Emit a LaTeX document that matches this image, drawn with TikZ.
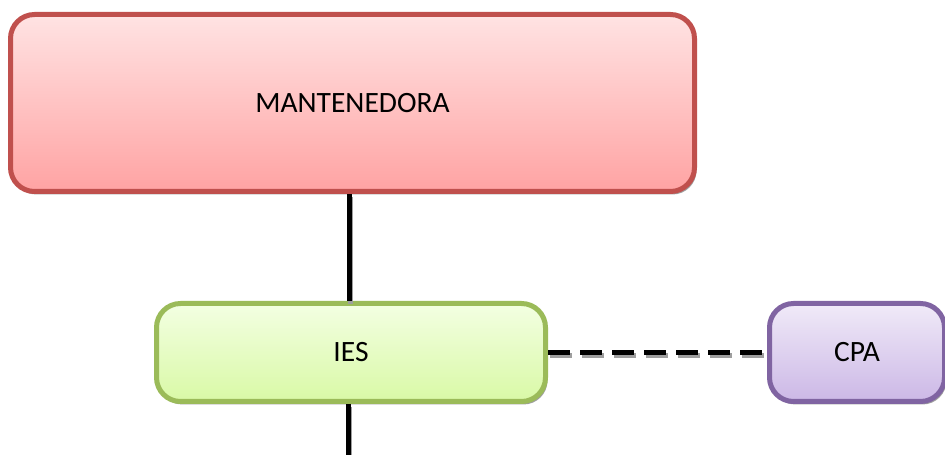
\documentclass[tikz,border=0pt]{standalone}
\usepackage{fontspec}
\setmainfont{Carlito}
\usetikzlibrary{shadows}
\definecolor{redline}{HTML}{C0504D}
\definecolor{redtop}{HTML}{FFE3E3}
\definecolor{redbot}{HTML}{FFA3A3}
\definecolor{greenline}{HTML}{9BBB59}
\definecolor{greentop}{HTML}{F3FFE2}
\definecolor{greenbot}{HTML}{D9F9A6}
\definecolor{purpleline}{HTML}{8064A2}
\definecolor{purpletop}{HTML}{F0EAF8}
\definecolor{purplebot}{HTML}{CCB8E6}

\tikzset{orgbox/.style={rectangle,rounded corners=24pt,line width=5pt,inner sep=0pt,
           font=\fontsize{29.5}{34}\selectfont,
           drop shadow={shadow xshift=2pt,shadow yshift=-3pt,fill=black!38,opacity=1}},
         orglink/.style={line width=5pt},
         orgshade/.style={line width=5pt,black!38,transform canvas={shift={(1.5pt,-3pt)}}},
         orgdash/.style={dash pattern=on 22pt off 10pt}}

\begin{document}
\begin{tikzpicture}[x=1pt,y=1pt]
  \useasboundingbox (0,0) rectangle (945,455);
  % boxes
  \node[orgbox,draw=redline,top color=redtop,bottom color=redbot,
        minimum width=684pt,minimum height=177pt] (mant) at (352.5,352) {MANTENEDORA};
  \node[orgbox,draw=greenline,top color=greentop,bottom color=greenbot,
        minimum width=389pt,minimum height=98pt] (ies) at (351,102.5) {IES};
  \node[orgbox,draw=purpleline,top color=purpletop,bottom color=purplebot,
        minimum width=175pt,minimum height=98pt] (cpa) at (857,102.5) {CPA};
  \coordinate (down) at (ies.south |- 0,0);
  % links, shadow first
  \draw[orgshade] ([xshift=-2pt]ies.north |- mant.south) -- ([xshift=-2pt]ies.north);
  \draw[orglink] ([xshift=-2pt]ies.north |- mant.south) -- ([xshift=-2pt]ies.north);
  \draw[orgshade] ([xshift=-3pt]ies.south) -- ([xshift=-3pt]down);
  \draw[orglink] ([xshift=-3pt]ies.south) -- ([xshift=-3pt]down);
  \draw[orgshade,orgdash] (ies.east) -- (cpa.west);
  \draw[orglink,orgdash] (ies.east) -- (cpa.west);
\end{tikzpicture}
\end{document}
